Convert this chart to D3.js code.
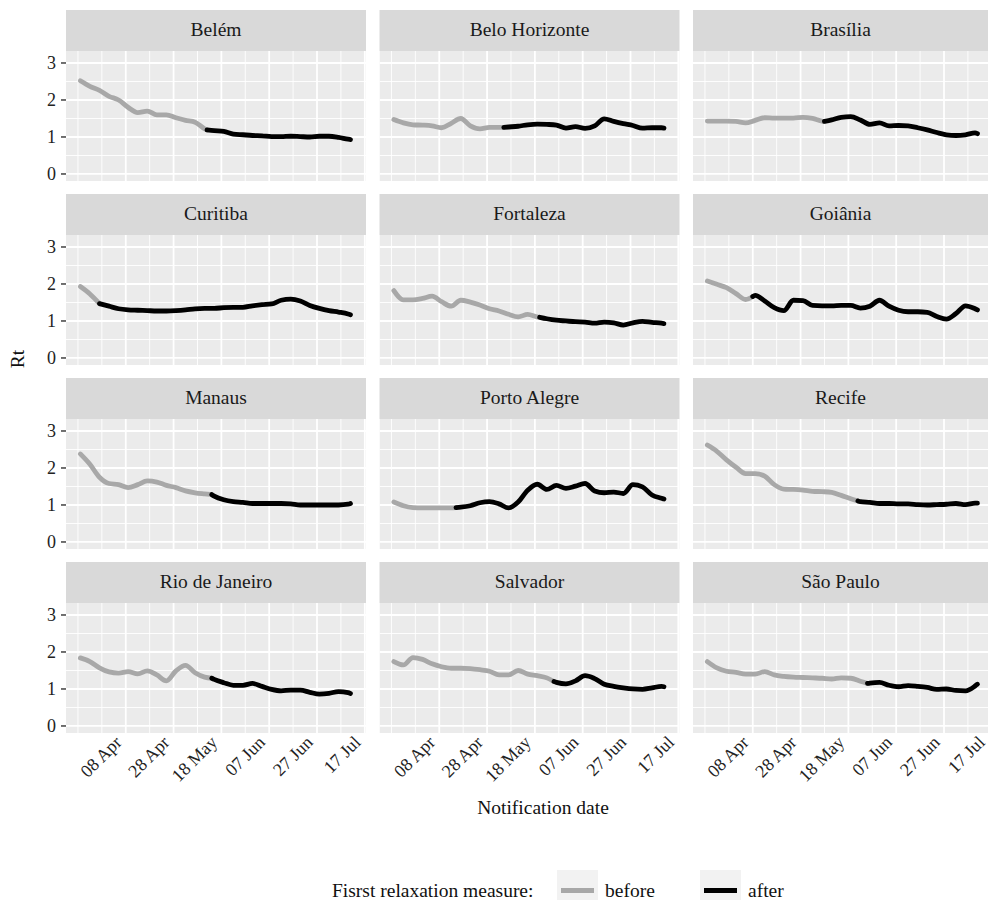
<!DOCTYPE html>
<html><head><meta charset="utf-8">
<script src="https://cdn.jsdelivr.net/npm/d3@7"></script>
<style>
body{margin:0;background:#fff}
svg{display:block}
text{font-family:"Liberation Serif","DejaVu Serif",serif;}
</style>
</head><body>
<svg id="chart" width="990" height="900"></svg>
<script>
// ---------------- data ----------------
const cities = ["Belém","Belo Horizonte","Brasília","Curitiba","Fortaleza","Goiânia","Manaus","Porto Alegre","Recife","Rio de Janeiro","Salvador","São Paulo"];
const dates = ["2020-03-20","2020-03-24","2020-03-28","2020-04-01","2020-04-05","2020-04-09","2020-04-13","2020-04-17","2020-04-21","2020-04-25","2020-04-29","2020-05-03","2020-05-07","2020-05-11","2020-05-15","2020-05-19","2020-05-23","2020-05-27","2020-05-31","2020-06-04","2020-06-08","2020-06-12","2020-06-16","2020-06-20","2020-06-24","2020-06-28","2020-07-02","2020-07-06","2020-07-10","2020-07-11"];
const belem       = [2.52,2.37,2.26,2.10,2.00,1.80,1.66,1.70,1.60,1.60,1.52,1.45,1.40,1.22,1.17,1.15,1.08,1.06,1.04,1.03,1.01,1.01,1.02,1.01,1.00,1.02,1.02,0.99,0.94,0.93];
const beloHorizonte = [1.47,1.38,1.33,1.32,1.30,1.25,1.37,1.50,1.30,1.22,1.26,1.26,1.27,1.29,1.33,1.35,1.34,1.32,1.24,1.28,1.23,1.30,1.49,1.42,1.36,1.31,1.24,1.25,1.25,1.24];
const brasilia    = [1.43,1.43,1.43,1.42,1.38,1.45,1.52,1.51,1.51,1.51,1.53,1.50,1.43,1.46,1.53,1.55,1.46,1.34,1.38,1.30,1.31,1.30,1.25,1.19,1.12,1.06,1.04,1.06,1.11,1.09];
const curitiba    = [1.93,1.73,1.47,1.40,1.33,1.30,1.29,1.28,1.27,1.27,1.28,1.30,1.33,1.34,1.34,1.36,1.37,1.37,1.41,1.44,1.46,1.56,1.59,1.54,1.42,1.34,1.28,1.24,1.19,1.17];
const fortaleza   = [1.82,1.57,1.57,1.61,1.67,1.52,1.40,1.56,1.51,1.43,1.33,1.27,1.18,1.11,1.18,1.11,1.06,1.02,1.00,0.98,0.97,0.94,0.97,0.95,0.89,0.95,0.99,0.96,0.94,0.93];
const goiania     = [2.08,1.99,1.90,1.74,1.58,1.69,1.54,1.36,1.28,1.56,1.55,1.42,1.41,1.41,1.42,1.42,1.35,1.40,1.56,1.40,1.29,1.25,1.25,1.23,1.12,1.05,1.20,1.41,1.33,1.30];
const manaus      = [2.38,2.10,1.75,1.58,1.55,1.47,1.55,1.65,1.62,1.53,1.47,1.38,1.33,1.30,1.24,1.14,1.09,1.07,1.04,1.04,1.04,1.04,1.03,1.00,1.00,1.00,1.00,1.00,1.02,1.04];
const portoAlegre = [1.08,0.98,0.93,0.92,0.92,0.92,0.92,0.94,0.98,1.06,1.09,1.03,0.92,1.08,1.40,1.56,1.42,1.53,1.45,1.51,1.58,1.38,1.33,1.35,1.31,1.55,1.49,1.27,1.18,1.16];
const recife      = [2.62,2.45,2.22,2.02,1.85,1.85,1.78,1.55,1.43,1.42,1.40,1.37,1.36,1.34,1.26,1.17,1.09,1.07,1.04,1.04,1.03,1.03,1.01,1.00,1.01,1.02,1.04,1.01,1.05,1.05];
const rioDeJaneiro = [1.84,1.74,1.57,1.46,1.43,1.47,1.41,1.49,1.38,1.22,1.49,1.64,1.44,1.32,1.26,1.17,1.10,1.10,1.15,1.07,0.99,0.95,0.97,0.97,0.91,0.86,0.88,0.93,0.90,0.88];
const salvador    = [1.74,1.65,1.85,1.80,1.68,1.60,1.56,1.56,1.55,1.52,1.48,1.38,1.38,1.50,1.40,1.36,1.30,1.18,1.14,1.22,1.36,1.28,1.13,1.07,1.03,1.00,0.99,1.03,1.07,1.06];
const saoPaulo    = [1.74,1.57,1.48,1.45,1.40,1.40,1.47,1.38,1.34,1.32,1.31,1.30,1.29,1.27,1.30,1.29,1.21,1.16,1.18,1.10,1.06,1.09,1.07,1.04,0.99,1.00,0.96,0.95,1.08,1.13];
const seriesValues = [belem,beloHorizonte,brasilia,curitiba,fortaleza,goiania,manaus,portoAlegre,recife,rioDeJaneiro,salvador,saoPaulo];
// date of first relaxation measure and Rt at that date
const relaxDates  = ["2020-05-12","2020-05-05","2020-05-08","2020-03-28","2020-05-20","2020-04-08","2020-05-14","2020-04-15","2020-05-22","2020-05-14","2020-05-26","2020-05-26"];
const relaxValues = [1.19,1.26,1.42,1.47,1.10,1.66,1.28,0.93,1.11,1.29,1.20,1.15];
const xTickDates  = ["2020-04-08","2020-04-28","2020-05-18","2020-06-07","2020-06-27","2020-07-17"];
const xTickLabels = ["08 Apr","28 Apr","18 May","07 Jun","27 Jun","17 Jul"];
const xMinorDates = ["2020-03-19","2020-03-29","2020-04-18","2020-05-08","2020-05-28","2020-06-17","2020-07-07"];
const yTicks = [0,1,2,3];
const yMinor = [0.5,1.5,2.5];
const legendLabels = ["before","after"];

// ---------------- layout ----------------
const W = 990, H = 900;
const nCols = 3;
const panelLeft0 = 66, panelW = 300, gapX = 13.5, rightLimit = 988;
const rowTop0 = 10, stripH = 41, panelH = 130, gapY = 13;
const colBefore = "#a8a8a8", colAfter = "#000000";
const lineW = 4.8;

const parse = d3.timeParse("%Y-%m-%d");
const svg = d3.select("#chart");

const x = d3.scaleTime()
  .domain([new Date(2020,2,14), new Date(2020,6,17,12)])
  .range([0, panelW]);
const y = d3.scaleLinear().domain([-0.19, 3.324]).range([panelH, 0]);

const line = d3.line()
  .x(d => x(d.date)).y(d => y(d.v))
  .curve(d3.curveMonotoneX);

const nRows = Math.ceil(cities.length / nCols);

cities.forEach((city, i) => {
  const col = i % nCols, row = Math.floor(i / nCols);
  const left = panelLeft0 + col * (panelW + gapX);
  const visW = Math.min(panelW, rightLimit - left);
  const top = rowTop0 + row * (stripH + panelH + gapY);
  const g = svg.append("g").attr("transform", `translate(${left},${top})`);

  // strip
  g.append("rect").attr("width", visW).attr("height", stripH).attr("fill", "#d9d9d9");
  g.append("text").attr("x", visW / 2).attr("y", 25.5)
    .attr("text-anchor", "middle").attr("font-size", 19.5).attr("fill", "#1a1a1a")
    .text(city);

  const clipId = "clip" + i;
  g.append("clipPath").attr("id", clipId).append("rect")
    .attr("width", visW).attr("height", panelH);

  const p = g.append("g").attr("transform", `translate(0,${stripH})`);
  const pc = p.append("g").attr("clip-path", `url(#${clipId})`);
  pc.append("rect").attr("width", visW).attr("height", panelH).attr("fill", "#ebebeb");

  // minor grid
  pc.selectAll(".ymin").data(yMinor).join("line")
    .attr("x1", 0).attr("x2", visW).attr("y1", d => y(d)).attr("y2", d => y(d))
    .attr("stroke", "#fff").attr("stroke-width", 0.9);
  pc.selectAll(".xmin").data(xMinorDates).join("line")
    .attr("x1", d => x(parse(d))).attr("x2", d => x(parse(d)))
    .attr("y1", 0).attr("y2", panelH)
    .attr("stroke", "#fff").attr("stroke-width", 0.9);
  // major grid
  pc.selectAll(".ymaj").data(yTicks).join("line")
    .attr("x1", 0).attr("x2", visW).attr("y1", d => y(d)).attr("y2", d => y(d))
    .attr("stroke", "#fff").attr("stroke-width", 1.8);
  pc.selectAll(".xmaj").data(xTickDates).join("line")
    .attr("x1", d => x(parse(d))).attr("x2", d => x(parse(d)))
    .attr("y1", 0).attr("y2", panelH)
    .attr("stroke", "#fff").attr("stroke-width", 1.8);

  // series split at first relaxation measure
  const vals = seriesValues[i];
  const rd = parse(relaxDates[i]);
  const rp = {date: rd, v: relaxValues[i]};
  const pts = dates.map((d, k) => ({date: parse(d), v: vals[k]}));
  const before = pts.filter(d => d.date < rd).concat([rp]);
  const after = [rp].concat(pts.filter(d => d.date > rd));
  pc.append("path").datum(before).attr("d", line)
    .attr("fill", "none").attr("stroke", colBefore).attr("stroke-width", lineW)
    .attr("stroke-linejoin", "round").attr("stroke-linecap", "round");
  pc.append("path").datum(after).attr("d", line)
    .attr("fill", "none").attr("stroke", colAfter).attr("stroke-width", lineW)
    .attr("stroke-linejoin", "round").attr("stroke-linecap", "round");

  // y axis (left column)
  if (col === 0) {
    const ya = p.append("g");
    ya.selectAll("line").data(yTicks).join("line")
      .attr("x1", -5).attr("x2", 0).attr("y1", d => y(d)).attr("y2", d => y(d))
      .attr("stroke", "#333").attr("stroke-width", 1.4);
    ya.selectAll("text").data(yTicks).join("text")
      .attr("x", -10).attr("y", d => y(d)).attr("dy", "0.34em")
      .attr("text-anchor", "end").attr("font-size", 18).attr("fill", "#222")
      .text(d => d);
  }
  // x axis (bottom row)
  if (row === nRows - 1) {
    const xa = p.append("g").attr("transform", `translate(0,${panelH})`);
    xa.selectAll("text").data(xTickDates).join("text")
      .attr("transform", d => {
        const ax = Math.min(x(parse(d)) - 7.5, 981.5 - left);
        return `translate(${ax},6) rotate(-45)`;
      })
      .attr("text-anchor", "end").attr("dy", "0.35em")
      .attr("font-size", 18).attr("fill", "#222")
      .text((d, k) => xTickLabels[k]);
  }
});

// axis titles
svg.append("text").attr("x", 543).attr("y", 814).attr("text-anchor", "middle")
  .attr("font-size", 19.5).attr("fill", "#111").text("Notification date");
svg.append("text").attr("transform", "translate(24,359) rotate(-90)")
  .attr("text-anchor", "middle").attr("font-size", 19.5).attr("fill", "#111").text("Rt");

// legend
const lg = svg.append("g");
lg.append("text").attr("x", 332).attr("y", 896.5).attr("font-size", 19.5).attr("fill", "#111")
  .text("Fisrst relaxation measure:");
const keyX = [557, 700], labX = [605, 748], keyCol = [colBefore, colAfter];
legendLabels.forEach((lab, k) => {
  lg.append("rect").attr("x", keyX[k]).attr("y", 870).attr("width", 41).attr("height", 41).attr("fill", "#f2f2f2");
  lg.append("line").attr("x1", keyX[k] + 4).attr("x2", keyX[k] + 37).attr("y1", 890.5).attr("y2", 890.5)
    .attr("stroke", keyCol[k]).attr("stroke-width", lineW);
  lg.append("text").attr("x", labX[k]).attr("y", 896.5).attr("font-size", 19.5).attr("fill", "#111").text(lab);
});
</script>
</body></html>
